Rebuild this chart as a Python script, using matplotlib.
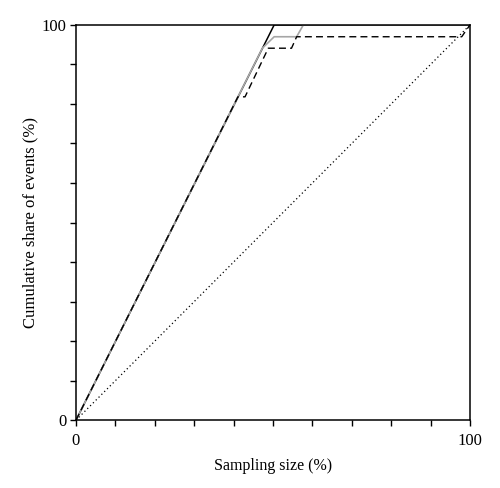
import matplotlib
matplotlib.use("Agg")
import matplotlib.pyplot as plt
from matplotlib.ticker import MultipleLocator

plt.rcParams['font.family'] = ['Liberation Serif', 'DejaVu Serif']

# curves (x = sampling size %, y = cumulative share %)
black_x = [0, 50.3, 100]
black_y = [0, 100, 100]

gray_x = [0, 47.3, 50.3, 56.0, 57.7, 100]
gray_y = [0, 94.1, 97.0, 97.0, 100, 100]

dash_x = [0, 41.1, 42.9, 48.8, 54.7, 56.0, 97.9, 100]
dash_y = [0, 81.8, 81.8, 94.1, 94.1, 97.0, 97.0, 100]

diag_x = [0, 100]
diag_y = [0, 100]

fig = plt.figure(figsize=(5.0, 4.88), dpi=100)
ax = fig.add_axes([0.152, 0.139, 0.788, 0.81])

ax.plot(diag_x, diag_y, color='black', lw=0.9, linestyle=(0, (1, 2.2)))
ax.plot(black_x, black_y, color='black', lw=1.1)
ax.plot(gray_x, gray_y, color='#a6a6a6', lw=1.2)
ax.plot(dash_x, dash_y, color='black', lw=1.0, linestyle=(0, (5, 3)))

ax.set_xlim(0, 100)
ax.set_ylim(0, 100)
ax.set_xticks([0, 100])
ax.set_yticks([0, 100])
ax.xaxis.set_minor_locator(MultipleLocator(10))
ax.yaxis.set_minor_locator(MultipleLocator(10))
ax.tick_params(which='both', direction='out', length=4, width=1.0, labelsize=12)
ax.tick_params(axis='x', pad=5)
ax.tick_params(axis='y', pad=3)
for s in ax.spines.values():
    s.set_linewidth(1.1)

ax.set_xlabel('Sampling size (%)', fontsize=11.5, labelpad=7)
ax.set_ylabel('Cumulative share of events (%)', fontsize=12, labelpad=2)

fig.savefig('out.png', dpi=100)
